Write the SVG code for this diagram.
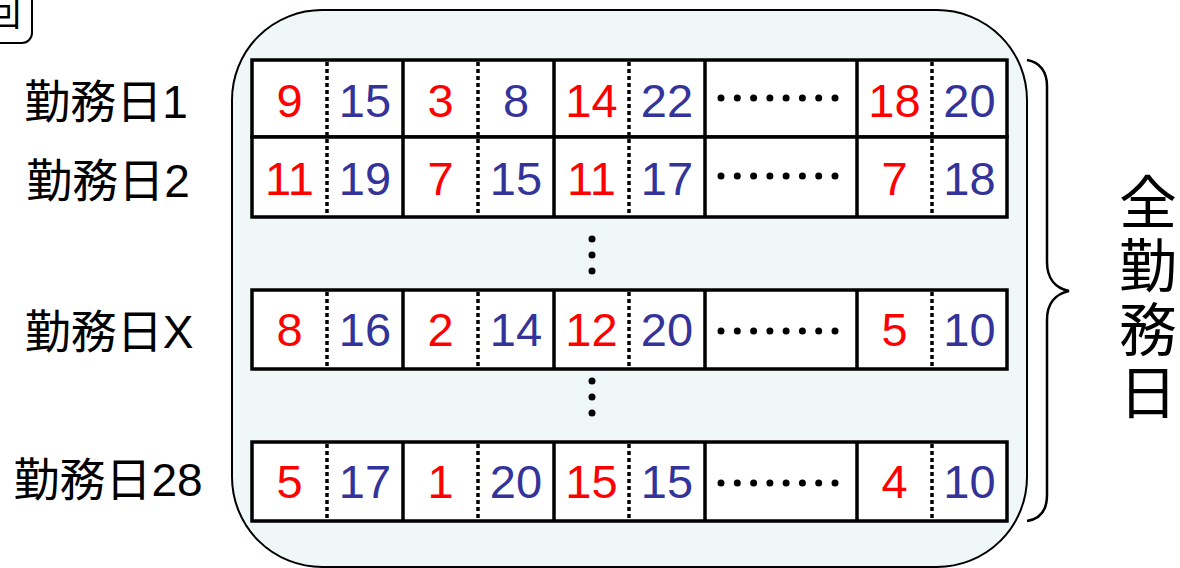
<svg xmlns="http://www.w3.org/2000/svg" width="1180" height="568" viewBox="0 0 1180 568">
<style>
.lbl{font-family:"Liberation Sans","Noto Sans CJK JP",sans-serif;font-size:46px;fill:#000;text-anchor:middle}
.vt{font-family:"Noto Sans CJK JP",sans-serif;font-size:58px;fill:#000;text-anchor:middle}
.r{font-family:"Liberation Sans",Arial,sans-serif;font-size:47px;fill:#FF0000;text-anchor:middle}
.b{font-family:"Liberation Sans",Arial,sans-serif;font-size:47px;fill:#333399;text-anchor:middle}
.cell{fill:#fff;stroke:#000;stroke-width:3.5}
.sep{stroke:#000;stroke-width:3.5}
.dot{stroke:#000;stroke-width:3.5;stroke-dasharray:4 3}
.pt{fill:#000}
</style>
<defs>
<g id="ell">
<circle class="pt" cx="721" cy="0" r="3.5"/><circle class="pt" cx="737.3" cy="0" r="3.5"/><circle class="pt" cx="753.6" cy="0" r="3.5"/><circle class="pt" cx="769.9" cy="0" r="3.5"/><circle class="pt" cx="786.1" cy="0" r="3.5"/><circle class="pt" cx="802.4" cy="0" r="3.5"/><circle class="pt" cx="818.7" cy="0" r="3.5"/><circle class="pt" cx="835" cy="0" r="3.5"/>
</g>
</defs>
<g id="corner-box">
<rect x="-20" y="-20" width="52" height="63" rx="10" fill="#fff" stroke="#000" stroke-width="2"/>
<text x="-15" y="26" font-family="Noto Sans CJK JP,sans-serif" font-size="36" fill="#000">回</text>
</g>
<g id="container">
<rect x="232" y="10" width="795" height="557" rx="90" fill="#EFF8F6" stroke="#000" stroke-width="2"/>
</g>
<g id="row1">
<rect class="cell" x="252" y="60" width="755" height="77"/>
<line class="sep" x1="403" y1="60" x2="403" y2="137"/><line class="sep" x1="554" y1="60" x2="554" y2="137"/><line class="sep" x1="705" y1="60" x2="705" y2="137"/><line class="sep" x1="857" y1="60" x2="857" y2="137"/>
<line class="dot" x1="327" y1="62" x2="327" y2="135"/><line class="dot" x1="478" y1="62" x2="478" y2="135"/><line class="dot" x1="629" y1="62" x2="629" y2="135"/><line class="dot" x1="932" y1="62" x2="932" y2="135"/>
<text class="r" x="289.5" y="117">9</text><text class="b" x="365" y="117">15</text><text class="r" x="440.5" y="117">3</text><text class="b" x="516" y="117">8</text><text class="r" x="591.5" y="117">14</text><text class="b" x="667" y="117">22</text><text class="r" x="894.5" y="117">18</text><text class="b" x="969.5" y="117">20</text>
<use href="#ell" y="98"/>
</g>
<g id="row2">
<rect class="cell" x="252" y="137" width="755" height="80"/>
<line class="sep" x1="403" y1="137" x2="403" y2="217"/><line class="sep" x1="554" y1="137" x2="554" y2="217"/><line class="sep" x1="705" y1="137" x2="705" y2="217"/><line class="sep" x1="857" y1="137" x2="857" y2="217"/>
<line class="dot" x1="327" y1="139" x2="327" y2="215"/><line class="dot" x1="478" y1="139" x2="478" y2="215"/><line class="dot" x1="629" y1="139" x2="629" y2="215"/><line class="dot" x1="932" y1="139" x2="932" y2="215"/>
<text class="r" x="289.5" y="195">11</text><text class="b" x="365" y="195">19</text><text class="r" x="440.5" y="195">7</text><text class="b" x="516" y="195">15</text><text class="r" x="591.5" y="195">11</text><text class="b" x="667" y="195">17</text><text class="r" x="894.5" y="195">7</text><text class="b" x="969.5" y="195">18</text>
<use href="#ell" y="176"/>
</g>
<g id="vdots1"><circle class="pt" cx="592" cy="239" r="3.5"/><circle class="pt" cx="592" cy="255" r="3.5"/><circle class="pt" cx="592" cy="271" r="3.5"/></g>
<g id="rowX">
<rect class="cell" x="252" y="290" width="755" height="79"/>
<line class="sep" x1="403" y1="290" x2="403" y2="369"/><line class="sep" x1="554" y1="290" x2="554" y2="369"/><line class="sep" x1="705" y1="290" x2="705" y2="369"/><line class="sep" x1="857" y1="290" x2="857" y2="369"/>
<line class="dot" x1="327" y1="292" x2="327" y2="367"/><line class="dot" x1="478" y1="292" x2="478" y2="367"/><line class="dot" x1="629" y1="292" x2="629" y2="367"/><line class="dot" x1="932" y1="292" x2="932" y2="367"/>
<text class="r" x="289.5" y="346">8</text><text class="b" x="365" y="346">16</text><text class="r" x="440.5" y="346">2</text><text class="b" x="516" y="346">14</text><text class="r" x="591.5" y="346">12</text><text class="b" x="667" y="346">20</text><text class="r" x="894.5" y="346">5</text><text class="b" x="969.5" y="346">10</text>
<use href="#ell" y="331"/>
</g>
<g id="vdots2"><circle class="pt" cx="592" cy="381" r="3.5"/><circle class="pt" cx="592" cy="397" r="3.5"/><circle class="pt" cx="592" cy="413" r="3.5"/></g>
<g id="row28">
<rect class="cell" x="252" y="442" width="755" height="79"/>
<line class="sep" x1="403" y1="442" x2="403" y2="521"/><line class="sep" x1="554" y1="442" x2="554" y2="521"/><line class="sep" x1="705" y1="442" x2="705" y2="521"/><line class="sep" x1="857" y1="442" x2="857" y2="521"/>
<line class="dot" x1="327" y1="444" x2="327" y2="519"/><line class="dot" x1="478" y1="444" x2="478" y2="519"/><line class="dot" x1="629" y1="444" x2="629" y2="519"/><line class="dot" x1="932" y1="444" x2="932" y2="519"/>
<text class="r" x="289.5" y="498">5</text><text class="b" x="365" y="498">17</text><text class="r" x="440.5" y="498">1</text><text class="b" x="516" y="498">20</text><text class="r" x="591.5" y="498">15</text><text class="b" x="667" y="498">15</text><text class="r" x="894.5" y="498">4</text><text class="b" x="969.5" y="498">10</text>
<use href="#ell" y="483"/>
</g>
<g id="labels">
<text class="lbl" x="106" y="118">勤務日1</text>
<text class="lbl" x="108" y="197">勤務日2</text>
<text class="lbl" x="109" y="348">勤務日X</text>
<text class="lbl" x="108" y="496">勤務日28</text>
</g>
<g id="connectors">
<path d="M1027,60 C1040,62 1047,72 1047,86 L1047,262 C1047,278 1055,288 1069,291 C1055,294 1047,304 1047,320 L1047,495 C1047,510 1040,519 1027,521" fill="none" stroke="#000" stroke-width="2.5"/>
</g>
<g id="all-days">
<text class="vt"><tspan x="1148" y="224">全</tspan><tspan x="1148" y="287">勤</tspan><tspan x="1148" y="351">務</tspan><tspan x="1148" y="414">日</tspan></text>
</g>
</svg>
